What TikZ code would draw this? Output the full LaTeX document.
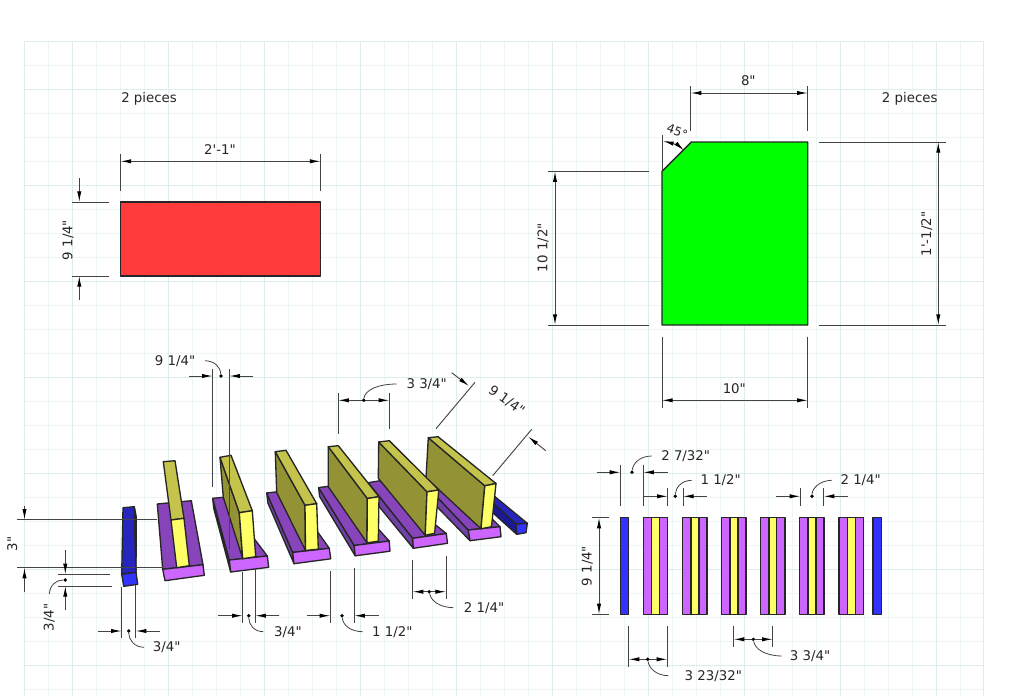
\documentclass[tikz,border=0pt]{standalone}
\usepackage{fontspec}
\setmainfont{DejaVu Sans}[Ligatures=TeXOff]
\usetikzlibrary{arrows.meta}
\definecolor{gridminor}{HTML}{EDF6F6}
\definecolor{gridmajor}{HTML}{DFECEE}
\definecolor{pfront}{HTML}{CC66FF}
\definecolor{ptop}{HTML}{8844BB}
\definecolor{pside}{HTML}{7040A6}
\definecolor{yfront}{HTML}{FFFF66}
\definecolor{ytop}{HTML}{C4C44C}
\definecolor{yside}{HTML}{939336}
\definecolor{bfront}{HTML}{3333FF}
\definecolor{btop}{HTML}{2626BF}
\definecolor{bside}{HTML}{1A1A99}
\definecolor{redp}{HTML}{FF3B3B}
\definecolor{linec}{HTML}{444444}
\tikzset{
  solid3d/.style={draw=black!85,line width=1pt,line join=round},
  ext/.style={draw=linec,line width=0.7pt},
  dim/.style={draw=linec,line width=0.7pt,{Latex[length=8pt,width=3.2pt,black]}-{Latex[length=8pt,width=3.2pt,black]}},
  tip/.style={draw=linec,line width=0.7pt,-{Latex[length=8pt,width=3.2pt,black]}},
  lead/.style={draw=linec,line width=0.6pt},
  dotm/.style={circle,fill=black,inner sep=0pt,minimum size=2.8pt},
  lab/.style={font=\fontsize{10pt}{12pt}\selectfont,text=black!85,inner sep=0pt}
}
\newcommand{\Ext}[4]{\draw[ext] (#1,#2) -- (#3,#4);}
\begin{document}
\begin{tikzpicture}[x=0.75pt,y=-0.75pt]
\useasboundingbox (0,0) rectangle (1024,696);
\fill[white] (0,0) rectangle (1024,696);
% grid
\foreach \x in {24.5,48.5,...,983}{\draw[gridminor,line width=0.7pt] (\x,41) -- (\x,696);}
\foreach \y in {41,65,...,696}{\draw[gridminor,line width=0.7pt] (24.5,\y) -- (983,\y);}
\foreach \x in {72.5,168.5,...,983}{\draw[gridmajor,line width=0.7pt] (\x,41) -- (\x,696);}
\foreach \y in {89,185,...,696}{\draw[gridmajor,line width=0.7pt] (24.5,\y) -- (983,\y);}
\draw[gridmajor,line width=0.7pt] (24.5,696) -- (24.5,41) -- (983,41) -- (983,696);
% red and green panels
\draw[solid3d,fill=redp] (120.5,202) rectangle (320.5,276);
\draw[solid3d,fill=green] (662,171.3) -- (691.3,142) -- (807.7,142) -- (807.7,325) -- (662,325) -- cycle;
% red dims
\Ext{120.5}{153.7}{120.5}{190.5}\Ext{320.5}{153.7}{320.5}{190.5}
\draw[dim] (120.5,161.3) -- (320.5,161.3);
\node[lab] (a1) at (220,149.5) {2'-1"};
\node[lab,anchor=west] (a2) at (121,99) {2 pieces};
\Ext{72}{202}{109}{202}\Ext{72}{276}{109}{276}
\draw[tip] (79.3,178) -- (79.3,202);
\draw[tip] (79.3,300) -- (79.3,276);
\node[lab,rotate=90] (a3) at (68,240) {9 1/4"};
% green dims
\Ext{690.7}{86}{690.7}{130.7}\Ext{807.7}{86}{807.7}{130.7}
\draw[dim] (690.7,93) -- (807.7,93);
\node[lab] (b1) at (748.3,81) {8"};
\node[lab,anchor=west] (b2) at (881.7,99) {2 pieces};
\Ext{819.3}{142}{945.7}{142}\Ext{819.3}{325}{945.7}{325}
\draw[dim] (938.3,142) -- (938.3,325);
\node[lab,rotate=90] (b3) at (926.7,234) {1'-1/2"};
\Ext{547.7}{171.3}{649.3}{171.3}\Ext{547.7}{325}{649.3}{325}
\draw[dim] (555,171.3) -- (555,325);
\node[lab,rotate=90] (b4) at (543,247.7) {10 1/2"};
\Ext{662}{336.7}{662}{407.7}\Ext{807.7}{336.7}{807.7}{407.7}
\draw[dim] (662,400.3) -- (807.7,400.3);
\node[lab] (b5) at (734.3,388.3) {10"};
\node[lab,rotate=-20,font=\fontsize{9pt}{11pt}\selectfont] (b6) at (677.3,131.5) {45°};
\Ext{662}{135}{662}{171}
\draw[dim] (663,141) .. controls (671,143) and (679,146) .. (684,150.5);
% iso pieces
% blue post far end
\draw[solid3d,fill=btop] (495,496.7) -- (527.3,523.3) -- (516,524) -- (493,503) -- cycle;
\draw[solid3d,fill=bside] (493,503) -- (516,524) -- (516.7,534.3) -- (492,512) -- cycle;
\draw[solid3d,fill=bfront] (516,524) -- (527.3,523.3) -- (526,532.7) -- (516.7,534.3) -- cycle;
% piece 6
\draw[solid3d,fill=pside] (426.7,486) -- (468.3,530) -- (470,540.7) -- (427,496.5) -- cycle;
\draw[solid3d,fill=ptop] (426.7,486) -- (447,475) -- (500,526.7) -- (468.3,530) -- cycle;
\draw[solid3d,fill=pfront] (468.3,530) -- (500,526.7) -- (501,536.7) -- (470,540.7) -- cycle;
\draw[solid3d,fill=yside] (428.3,437.7) -- (426,477.7) -- (481,528.8) -- (484.8,485.8) -- cycle;
\draw[solid3d,fill=ytop] (428.3,437.7) -- (438,436.7) -- (496,483.5) -- (484.8,485.8) -- cycle;
\draw[solid3d,fill=yfront] (484.8,485.8) -- (496,483.5) -- (491.5,526.7) -- (481,528.8) -- cycle;
% piece 5
\draw[solid3d,fill=pside] (368.3,482.7) -- (412.7,538.3) -- (413.3,548.3) -- (368,493) -- cycle;
\draw[solid3d,fill=ptop] (368.3,482.7) -- (380,480.7) -- (446.3,533.5) -- (412.7,538.3) -- cycle;
\draw[solid3d,fill=pfront] (412.7,538.3) -- (446.3,533.5) -- (447.5,543.3) -- (413.3,548.3) -- cycle;
\draw[solid3d,fill=yside] (378.7,442) -- (378.3,478.3) -- (425.2,535.3) -- (427,491.8) -- cycle;
\draw[solid3d,fill=ytop] (378.7,442) -- (389.3,440.7) -- (438.8,490) -- (427,491.8) -- cycle;
\draw[solid3d,fill=yfront] (427,491.8) -- (438.8,490) -- (434.6,533.3) -- (425.2,535.3) -- cycle;
% piece 4
\draw[solid3d,fill=pside] (318.6,487.6) -- (354.2,545.5) -- (355.2,555.8) -- (319.6,496.5) -- cycle;
\draw[solid3d,fill=ptop] (318.6,487.6) -- (338.3,485) -- (389.2,541) -- (354.2,545.5) -- cycle;
\draw[solid3d,fill=pfront] (354.2,545.5) -- (389.2,541) -- (390,551.2) -- (355.2,555.8) -- cycle;
\draw[solid3d,fill=yside] (328.3,446.7) -- (328.3,486.7) -- (367,542.8) -- (367.3,498.5) -- cycle;
\draw[solid3d,fill=ytop] (328.3,446.7) -- (338.3,445.7) -- (379,496.7) -- (367.3,498.5) -- cycle;
\draw[solid3d,fill=yfront] (367.3,498.5) -- (379,496.7) -- (378.3,541.2) -- (367,542.8) -- cycle;
% piece 3
\draw[solid3d,fill=pside] (266.7,493) -- (292.7,552.4) -- (294,563.7) -- (267.9,503) -- cycle;
\draw[solid3d,fill=ptop] (266.7,493) -- (288,490.5) -- (329.3,548.3) -- (292.7,552.4) -- cycle;
\draw[solid3d,fill=pfront] (292.7,552.4) -- (329.3,548.3) -- (330.7,558.8) -- (294,563.7) -- cycle;
\draw[solid3d,fill=yside] (275.3,451.7) -- (276.7,492.5) -- (305.5,550.4) -- (305,505.3) -- cycle;
\draw[solid3d,fill=ytop] (275.3,451.7) -- (286,450.3) -- (316.7,503.7) -- (305,505.3) -- cycle;
\draw[solid3d,fill=yfront] (305,505.3) -- (316.7,503.7) -- (318.3,549.2) -- (305.5,550.4) -- cycle;
% piece 2
\draw[solid3d,fill=pside] (212.7,498.3) -- (229.3,560) -- (230.7,572) -- (213.7,508.3) -- cycle;
\draw[solid3d,fill=ptop] (212.7,498.3) -- (222.7,497.3) -- (267.3,556) -- (229.3,560) -- cycle;
\draw[solid3d,fill=pfront] (229.3,560) -- (267.3,556) -- (268.7,567.3) -- (230.7,572) -- cycle;
\draw[solid3d,fill=yside] (220,457.3) -- (223.3,497.3) -- (242.7,558.7) -- (239.3,512.7) -- cycle;
\draw[solid3d,fill=ytop] (220,457.3) -- (231,455.3) -- (252.3,510.7) -- (239.3,512.7) -- cycle;
\draw[solid3d,fill=yfront] (239.3,512.7) -- (252.3,510.7) -- (255.7,556.7) -- (242.7,558.7) -- cycle;
% piece 1
\draw[solid3d,fill=ptop] (157.3,504) -- (191.3,500.7) -- (203,564.7) -- (162.7,569.3) -- cycle;
\draw[solid3d,fill=pfront] (162.7,569.3) -- (203,564.7) -- (204.3,575.3) -- (165,580.7) -- cycle;
\draw[solid3d,fill=ytop] (163.3,461.7) -- (175,460.7) -- (184,518.3) -- (171,520) -- cycle;
\draw[solid3d,fill=yfront] (171,520) -- (184,518.3) -- (189.3,565.7) -- (176.7,567.7) -- cycle;
% blue post near end
\draw[solid3d,fill=btop] (123,507.7) -- (134.3,506.7) -- (136,572.3) -- (121.7,574.3) -- cycle;
\draw[solid3d,fill=bside] (134.3,506.7) -- (136.3,517) -- (136,572.3) -- cycle;
\draw[solid3d,fill=bfront] (121.7,574.3) -- (136,572.3) -- (137.7,584.3) -- (123.7,586.3) -- cycle;
% iso dims
\node[lab] (c1) at (175,360.7) {9 1/4"};
\Ext{212.7}{369}{212.7}{486.7}\Ext{229.3}{369}{229.3}{549.3}
\draw[tip] (189,376) -- (212.7,376);
\draw[tip] (253.3,376) -- (229.3,376);
\node[dotm] (d1) at (221,376) {};
\draw[lead] (d1) .. controls (220,366) and (214,361) .. (205,360.7);
\Ext{17.3}{519.7}{157.3}{519.7}\Ext{17.3}{567.7}{163}{567.7}
\draw[tip] (24.5,505.7) -- (24.5,519.7);
\draw[tip] (24.5,591.7) -- (24.5,567.7);
\node[lab,rotate=90] (c2) at (12.3,544) {3"};
\Ext{58.3}{574.3}{110}{574.3}\Ext{58.3}{586}{111.7}{586}
\draw[tip] (65.3,550) -- (65.3,574.3);
\draw[tip] (65.3,610) -- (65.3,586);
\node[dotm] (d2) at (65.3,580) {};
\draw[lead] (d2) .. controls (56,580) and (50,585) .. (49.3,594);
\node[lab,rotate=90] (c3) at (49.3,617.3) {3/4"};
\Ext{121.7}{586.7}{121.7}{638.3}\Ext{135.7}{585}{135.7}{638.3}
\draw[tip] (97.7,631) -- (121.7,631);
\draw[tip] (160,631) -- (135.7,631);
\node[dotm] (d3) at (128.7,631) {};
\draw[lead] (d3) .. controls (129,640) and (134,647) .. (144,647.3);
\node[lab] (c4) at (166.7,646.7) {3/4"};
\Ext{242.7}{571.7}{242.7}{623.3}\Ext{255.3}{569}{255.3}{623.3}
\draw[tip] (218.3,615.7) -- (242.7,615.7);
\draw[tip] (279.3,615.7) -- (255.3,615.7);
\node[dotm] (d4) at (248.7,615.7) {};
\draw[lead] (d4) .. controls (249,625) and (254,631.5) .. (263.3,631.7);
\node[lab] (c5) at (288,632) {3/4"};
\Ext{338.3}{392.7}{338.3}{434}\Ext{389.3}{392.7}{389.3}{429.3}
\draw[dim] (338.3,400.3) -- (389.3,400.3);
\node[dotm] (d5) at (363.7,400.3) {};
\draw[lead] (d5) .. controls (365,390) and (378,384) .. (396.7,384);
\node[lab] (c6) at (426.7,384) {3 3/4"};
\Ext{436}{428.7}{475}{382.3}\Ext{492.7}{475.7}{531.7}{429.3}
\draw[tip] (451.7,372.7) -- (469,386);
\draw[tip] (545.7,450.7) -- (528.3,436.7);
\node[lab,rotate=-35] (c7) at (506.7,400.7) {9 1/4"};
\Ext{330.3}{570.7}{330.3}{623.3}\Ext{354.3}{568.3}{354.3}{623.3}
\draw[tip] (306.7,615.7) -- (330.3,615.7);
\draw[tip] (379,615.7) -- (354.3,615.7);
\node[dotm] (d6) at (342,615.7) {};
\draw[lead] (d6) .. controls (343,625) and (350,631.5) .. (362.7,631.7);
\node[lab] (c8) at (392.3,632) {1 1/2"};
\Ext{412.7}{560}{412.7}{599.3}\Ext{446}{556}{446}{599.3}
\draw[dim] (412.7,591.7) -- (446,591.7);
\node[dotm] (d7) at (429.3,591.7) {};
\draw[lead] (d7) .. controls (431,601) and (440,607.5) .. (453.3,607.7);
\node[lab] (c9) at (484,607.7) {2 1/4"};
% top view strips
\draw[solid3d,fill=bfront] (620.3,517.7) rectangle (628.7,614.3);
\draw[solid3d,fill=bfront] (873,517.7) rectangle (881.3,614.3);
\foreach \xa/\xb/\xc/\xd in {643.3/651.7/659.7/667.7, 682.7/691/699/707, 721.7/730/738/746, 760.7/769/776.7/785, 799.7/808/816/824, 839/847.3/855.3/863.3}{
  \draw[solid3d,fill=pfront] (\xa,517.7) rectangle (\xd,614.3);
  \draw[solid3d,fill=yfront] (\xb,517.7) rectangle (\xc,614.3);
}
% top view dims
\Ext{620.3}{465}{620.3}{505.7}\Ext{643.3}{465}{643.3}{505.7}
\draw[tip] (596.7,472.3) -- (620.3,472.3);
\draw[tip] (668.3,472.3) -- (643.3,472.3);
\node[dotm] (d8) at (632,472.3) {};
\draw[lead] (d8) .. controls (633,463) and (640,456.2) .. (651.7,456);
\node[lab] (e1) at (685.7,456) {2 7/32"};
\Ext{667.7}{488.3}{667.7}{505.7}\Ext{683}{488.3}{683}{505.7}
\draw[tip] (643.3,496.3) -- (667.7,496.3);
\draw[tip] (707,496.3) -- (683,496.3);
\node[dotm] (d9) at (675.3,496.3) {};
\draw[lead] (d9) .. controls (675.5,488) and (681,480.5) .. (691.7,480.3);
\node[lab] (e2) at (720.7,480.3) {1 1/2"};
\Ext{800.3}{488.3}{800.3}{505.7}\Ext{823.7}{488.3}{823.7}{505.7}
\draw[tip] (776,496.3) -- (800.3,496.3);
\draw[tip] (847.7,496.3) -- (823.7,496.3);
\node[dotm] (d10) at (812,496.3) {};
\draw[lead] (d10) .. controls (812.3,488) and (820,480.5) .. (831.7,480.3);
\node[lab] (e3) at (860.7,480.3) {2 1/4"};
\Ext{592}{517.7}{608.7}{517.7}\Ext{592}{614.3}{608.7}{614.3}
\draw[dim] (599,517.7) -- (599,614.3);
\node[lab,rotate=90] (e4) at (587.3,566) {9 1/4"};
\Ext{628.7}{626}{628.7}{667.3}\Ext{667.3}{626}{667.3}{667.3}
\draw[dim] (628.7,659.3) -- (667.3,659.3);
\node[dotm] (d11) at (647.7,659.3) {};
\draw[lead] (d11) .. controls (649,668) and (656,675.5) .. (668.3,675.7);
\node[lab] (e5) at (713.3,675.7) {3 23/32"};
\Ext{733.7}{625.7}{733.7}{647.3}\Ext{772.7}{625.7}{772.7}{647.3}
\draw[dim] (733.7,639.3) -- (772.7,639.3);
\node[dotm] (d12) at (753.3,639.3) {};
\draw[lead] (d12) .. controls (755,649) and (765,655.8) .. (781.7,656);
\node[lab] (e6) at (810,656) {3 3/4"};
\end{tikzpicture}
\end{document}
